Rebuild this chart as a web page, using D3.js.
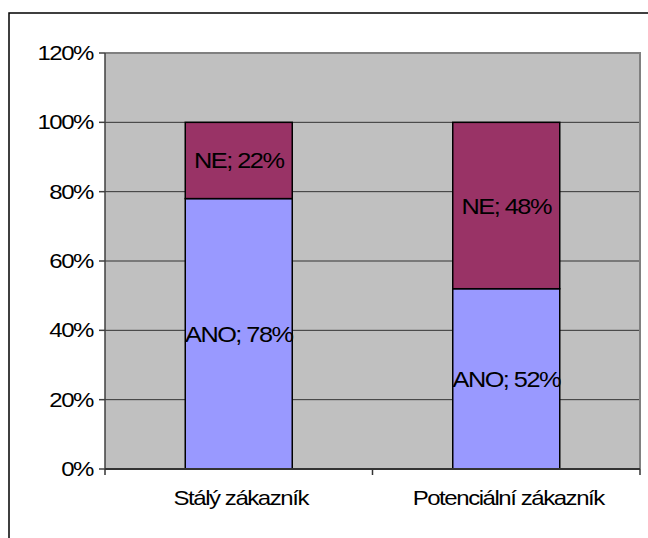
<!DOCTYPE html>
<html>
<head>
<meta charset="utf-8">
<script src="https://cdn.jsdelivr.net/npm/d3@7"></script>
<style>
html,body{margin:0;padding:0;background:#fff;}
svg{display:block;}
text{font-family:"Liberation Sans",Arial,sans-serif;fill:#000;}
</style>
</head>
<body>
<svg id="chart" width="648" height="538"></svg>
<script>
const categories = ["Stálý zákazník", "Potenciální zákazník"];
const seriesNames = ["ANO", "NE"];
const ano = [0.78, 0.52];
const ne = [0.22, 0.48];
const yTicks = [0, 0.2, 0.4, 0.6, 0.8, 1.0, 1.2];
const colors = ["#9999FF", "#993366"];

const svg = d3.select("#chart");
const W = 648, H = 538;
const plot = {left: 105, right: 640, top: 53, bottom: 469};

// outer frame
svg.append("rect").attr("x", 9).attr("y", 13).attr("width", W + 20).attr("height", H + 20)
  .attr("fill", "#fff").attr("stroke", "#000").attr("stroke-width", 1.5);

const x = d3.scaleBand().domain(categories).range([plot.left, plot.right])
  .paddingInner(0.6).paddingOuter(0.3);
const y = d3.scaleLinear().domain([0, 1.2]).range([plot.bottom, plot.top]);

// plot area background
svg.append("rect").attr("x", plot.left).attr("y", plot.top)
  .attr("width", plot.right - plot.left).attr("height", plot.bottom - plot.top)
  .attr("fill", "#C0C0C0");

// gridlines
svg.append("g").selectAll("line").data(yTicks.filter(t => t > 0 && t < 1.2)).join("line")
  .attr("x1", plot.left).attr("x2", plot.right)
  .attr("y1", d => y(d)).attr("y2", d => y(d))
  .attr("stroke", "#333").attr("stroke-width", 1);

// plot border top/right
svg.append("path")
  .attr("d", `M${plot.left},${plot.top}H${plot.right}V${plot.bottom}`)
  .attr("fill", "none").attr("stroke", "#808080").attr("stroke-width", 2);

// stacked data
const rows = categories.map((c, i) => ({cat: c, ANO: ano[i], NE: ne[i]}));
const stacked = d3.stack().keys(seriesNames)(rows);

const gBars = svg.append("g");
stacked.forEach((layer, li) => {
  gBars.append("g").selectAll("rect").data(layer).join("rect")
    .attr("x", d => x(d.data.cat))
    .attr("width", x.bandwidth())
    .attr("y", d => y(d[1]))
    .attr("height", d => y(d[0]) - y(d[1]))
    .attr("fill", colors[li])
    .attr("stroke", "#000").attr("stroke-width", 1.5);
});

// data labels
const sx = 1.15;
stacked.forEach((layer, li) => {
  svg.append("g").selectAll("text").data(layer).join("text")
    .attr("transform", d => `translate(${x(d.data.cat) + x.bandwidth() / 2},${(y(d[0]) + y(d[1])) / 2 + 8}) scale(${sx},1)`)
    .attr("text-anchor", "middle")
    .style("font-size", "22px")
    .style("letter-spacing", "-1.3px")
    .text(d => `${seriesNames[li]}; ${Math.round((d[1] - d[0]) * 100)}%`);
});

// y axis line
svg.append("line").attr("x1", plot.left).attr("x2", plot.left)
  .attr("y1", plot.top).attr("y2", plot.bottom)
  .attr("stroke", "#404040").attr("stroke-width", 1.5);

// y ticks
const yAxis = svg.append("g");
yAxis.selectAll("line").data(yTicks).join("line")
  .attr("x1", plot.left - 6).attr("x2", plot.left)
  .attr("y1", d => y(d)).attr("y2", d => y(d))
  .attr("stroke", "#404040").attr("stroke-width", 1.5);
yAxis.selectAll("text").data(yTicks).join("text")
  .attr("transform", d => `translate(93,${y(d) + 7}) scale(1.2,1)`)
  .attr("text-anchor", "end")
  .style("font-size", "20px")
  .style("letter-spacing", "-1.2px")
  .text(d => d3.format(".0%")(d));

// x axis line
svg.append("line").attr("x1", plot.left).attr("x2", plot.right)
  .attr("y1", plot.bottom).attr("y2", plot.bottom)
  .attr("stroke", "#333").attr("stroke-width", 2);

// x ticks at category boundaries
const bounds = [plot.left].concat(categories.map(c => x(c) - x.step() * x.paddingOuter() + x.step()));
svg.append("g").selectAll("line").data(bounds).join("line")
  .attr("x1", d => d).attr("x2", d => d)
  .attr("y1", plot.bottom).attr("y2", plot.bottom + 6)
  .attr("stroke", "#333").attr("stroke-width", 1.5);

// category labels
svg.append("g").selectAll("text").data(categories).join("text")
  .attr("transform", d => `translate(${x(d) + x.bandwidth() / 2 + 2},505) scale(1.2,1)`)
  .attr("text-anchor", "middle")
  .style("font-size", "20px")
  .style("letter-spacing", "-1.2px")
  .text(d => d);
</script>
</body>
</html>
